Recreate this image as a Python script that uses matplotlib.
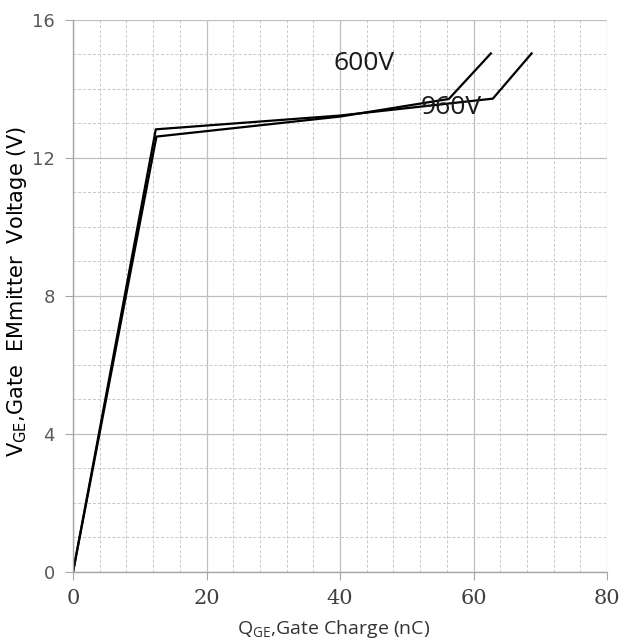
import matplotlib
matplotlib.use('Agg')
import matplotlib.pyplot as plt
from matplotlib.ticker import MultipleLocator

# gate charge curves (nC, V)
q_600 = [0, 12.5, 40.0, 56.3, 62.6]
v_600 = [0, 12.62, 13.2, 13.71, 15.03]
q_960 = [0, 12.4, 40.0, 62.9, 68.7]
v_960 = [0, 12.83, 13.23, 13.72, 15.03]

labels = ['600V', '960V']
label_pos = [(39.0, 14.75), (52.1, 13.45)]

xticks = [0, 20, 40, 60, 80]
yticks = [0, 4, 8, 12, 16]

fig = plt.figure(figsize=(6.22, 6.44), dpi=100)
ax = fig.add_axes([0.1174, 0.1118, 0.8585, 0.8572])

ax.plot(q_600, v_600, color='black', linewidth=1.6)
ax.plot(q_960, v_960, color='black', linewidth=1.6)

for t, (x, y) in zip(labels, label_pos):
    ax.text(x, y, t, fontsize=19, family='Open Sans', color='#1a1a1a',
            ha='left', va='center')

ax.set_xlim(0, 80)
ax.set_ylim(0, 16)
ax.set_xticks(xticks)
ax.set_yticks(yticks)
ax.xaxis.set_minor_locator(MultipleLocator(4))
ax.yaxis.set_minor_locator(MultipleLocator(1))

ax.grid(which='major', color='#bfbfbf', linestyle='-', linewidth=0.9)
ax.grid(which='minor', color='#c8c8c8', linestyle=(0, (3, 2)), linewidth=0.7)
ax.set_axisbelow(True)

for s in ['top', 'right']:
    ax.spines[s].set_visible(False)
for s in ['left', 'bottom']:
    ax.spines[s].set_color('#a6a6a6')
    ax.spines[s].set_linewidth(1.0)

ax.tick_params(which='major', direction='out', length=6, color='#a6a6a6')
ax.tick_params(which='minor', length=0)
ax.tick_params(axis='x', labelsize=15, labelcolor='#404040', pad=6)
ax.tick_params(axis='y', labelsize=13, labelcolor='#595959', pad=7)
for lab in ax.get_xticklabels():
    lab.set_family('DejaVu Serif')
for lab in ax.get_yticklabels():
    lab.set_family('DejaVu Sans')

ax.set_xlabel(r'Q$_{\mathregular{GE}}$,Gate Charge (nC)', fontsize=14,
              family='Open Sans', color='#333333')
ax.xaxis.set_label_coords(0.487, -0.084)
ax.set_ylabel(r'V$_{\mathregular{GE}}$,Gate  EMmitter  Voltage (V)', fontsize=15,
              family='DejaVu Sans', color='black')
ax.yaxis.set_label_coords(-0.082, 0.508)

plt.savefig('out.png', dpi=100)
